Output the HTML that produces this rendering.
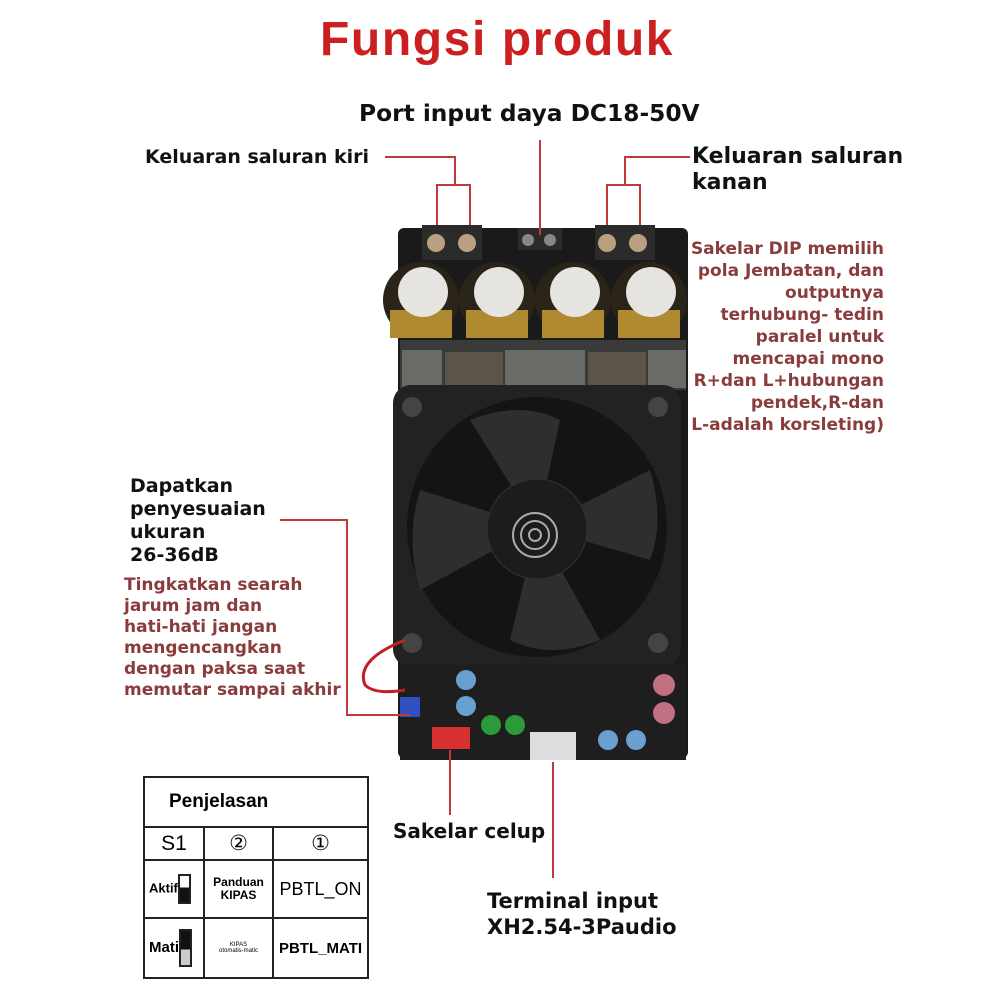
<!DOCTYPE html>
<html><head><meta charset="utf-8"><style>
body{margin:0;width:1000px;height:1000px;background:#fff;position:relative;overflow:hidden;font-family:"DejaVu Sans","Liberation Sans",sans-serif}
.t{position:absolute;font-weight:bold;color:#111;white-space:nowrap}
.r{position:absolute;font-weight:bold;color:#8a3c3c;font-size:17px;line-height:21px;white-space:nowrap}
table{position:absolute;left:143px;top:776px;width:226px;height:203px;border-collapse:collapse;font-family:"Liberation Sans",sans-serif}
td{border:2px solid #222;text-align:center;font-weight:bold;padding:0}
</style></head><body>
<div class="t" style="left:320px;top:12px;font-size:48px;color:#cc2020;font-family:'Liberation Sans',sans-serif;letter-spacing:1.6px">Fungsi produk</div>
<div class="t" style="left:359px;top:100px;font-size:23.3px">Port input daya DC18-50V</div>
<div class="t" style="left:145px;top:146px;font-size:19px">Keluaran saluran kiri</div>
<div class="t" style="left:692px;top:144px;font-size:22px;line-height:26px">Keluaran saluran<br>kanan</div>
<div class="r" style="right:116px;top:238px;text-align:right;line-height:22px">Sakelar DIP memilih<br>pola Jembatan, dan<br>outputnya<br>terhubung- tedin<br>paralel untuk<br>mencapai mono<br>R+dan L+hubungan<br>pendek,R-dan<br>L-adalah korsleting)</div>
<div class="t" style="left:130px;top:475px;font-size:19px;line-height:23px">Dapatkan<br>penyesuaian<br>ukuran<br>26-36dB</div>
<div class="r" style="left:124px;top:575px">Tingkatkan searah<br>jarum jam dan<br>hati-hati jangan<br>mengencangkan<br>dengan paksa saat<br>memutar sampai akhir</div>
<div class="t" style="left:393px;top:819px;font-size:20px">Sakelar celup</div>
<div class="t" style="left:487px;top:888px;font-size:21px;line-height:26px">Terminal input<br>XH2.54-3Paudio</div>

<svg width="1000" height="1000" style="position:absolute;left:0;top:0">
<rect x="398" y="228" width="290" height="530" rx="6" fill="#1a1a1a"/>
<rect x="400" y="340" width="286" height="50" fill="#3a3a38"/>
<g fill="#6a6a66"><rect x="402" y="350" width="40" height="38"/><rect x="505" y="350" width="40" height="38"/><rect x="545" y="350" width="40" height="38"/><rect x="648" y="350" width="38" height="38"/></g>
<g fill="#5a5548"><rect x="445" y="352" width="58" height="36"/><rect x="588" y="352" width="58" height="36"/></g>
<g fill="#2b2b2b"><rect x="422" y="225" width="60" height="35"/><rect x="518" y="228" width="44" height="22"/><rect x="595" y="225" width="60" height="35"/></g>
<g fill="#b8a080"><circle cx="436" cy="243" r="9"/><circle cx="467" cy="243" r="9"/><circle cx="607" cy="243" r="9"/><circle cx="638" cy="243" r="9"/></g>
<g fill="#888"><circle cx="528" cy="240" r="6"/><circle cx="550" cy="240" r="6"/></g>
<g><circle cx="421" cy="300" r="38" fill="#2a2418"/><circle cx="497" cy="300" r="38" fill="#2a2418"/><circle cx="573" cy="300" r="38" fill="#2a2418"/><circle cx="649" cy="300" r="38" fill="#2a2418"/></g>
<g fill="#b08a30"><rect x="390" y="310" width="62" height="28"/><rect x="466" y="310" width="62" height="28"/><rect x="542" y="310" width="62" height="28"/><rect x="618" y="310" width="62" height="28"/></g>
<g fill="#e6e4e0"><circle cx="423" cy="292" r="25"/><circle cx="499" cy="292" r="25"/><circle cx="575" cy="292" r="25"/><circle cx="651" cy="292" r="25"/></g>
<rect x="393" y="385" width="288" height="282" rx="18" fill="#222"/>
<circle cx="537" cy="527" r="130" fill="#141414"/>
<g fill="#2e2e2e"><path d="M537 527 L470 420 Q520 400 560 420Z"/><path d="M537 527 L650 470 Q665 520 650 560Z"/><path d="M537 527 L600 640 Q550 660 510 640Z"/><path d="M537 527 L420 590 Q405 540 420 490Z"/></g>
<circle cx="537" cy="529" r="50" fill="#1c1c1c" stroke="#333"/>
<g fill="none" stroke="#aaa" stroke-width="2"><circle cx="535" cy="535" r="22"/><circle cx="535" cy="535" r="14"/><circle cx="535" cy="535" r="6"/></g>
<g fill="#444"><circle cx="412" cy="407" r="10"/><circle cx="658" cy="407" r="10"/><circle cx="412" cy="643" r="10"/><circle cx="658" cy="643" r="10"/></g>
<rect x="400" y="665" width="286" height="95" fill="#1e1e1e"/>
<rect x="400" y="697" width="20" height="20" fill="#3050c0"/>
<rect x="432" y="727" width="38" height="22" fill="#d83030"/>
<rect x="530" y="732" width="46" height="28" fill="#ddd"/>
<g fill="#2a9a3a"><circle cx="491" cy="725" r="10"/><circle cx="515" cy="725" r="10"/></g>
<g fill="#6aa0d0"><circle cx="466" cy="680" r="10"/><circle cx="466" cy="706" r="10"/><circle cx="608" cy="740" r="10"/><circle cx="636" cy="740" r="10"/></g>
<g fill="#c07080"><circle cx="664" cy="685" r="11"/><circle cx="664" cy="713" r="11"/></g>
<path d="M405 640 Q355 660 365 685 Q375 695 405 690" stroke="#c02020" stroke-width="3" fill="none"/>
<g stroke="#c03a3a" stroke-width="2" fill="none">
<path d="M385 157H455V185M437 225V185H470V225"/>
<path d="M690 157H625V185M607 225V185H640V225"/>
<path d="M540 140V235"/>
<path d="M280 520H347V715H410"/>
<path d="M450 750V815"/>
<path d="M553 762V878"/>
</g>
</svg>

<table>
<tr style="height:50px"><td colspan="3" style="text-align:left;padding-left:24px;font-size:19px">Penjelasan</td></tr>
<tr style="height:33px"><td style="width:58px;font-weight:normal;font-size:21px">S1</td><td style="width:67px;font-weight:normal;font-size:21px">②</td><td style="font-weight:normal;font-size:21px">①</td></tr>
<tr style="height:58px"><td style="font-size:13px;text-align:left;padding-left:4px">Aktif<span style="display:inline-block;width:9px;height:26px;border:2px solid #222;vertical-align:middle;background:linear-gradient(#fff 45%,#111 45%)"></span></td><td style="font-size:12px;line-height:13px">Panduan<br>KIPAS</td><td style="font-weight:normal;font-size:18px">PBTL_ON</td></tr>
<tr><td style="font-size:15px;text-align:left;padding-left:4px">Mati<span style="display:inline-block;width:9px;height:34px;border:2px solid #222;vertical-align:middle;background:linear-gradient(#111 55%,#ccc 55%)"></span></td><td style="font-size:6px;font-weight:normal">KIPAS<br>otomatis-matic</td><td style="font-size:15px">PBTL_MATI</td></tr>
</table>
</body></html>
